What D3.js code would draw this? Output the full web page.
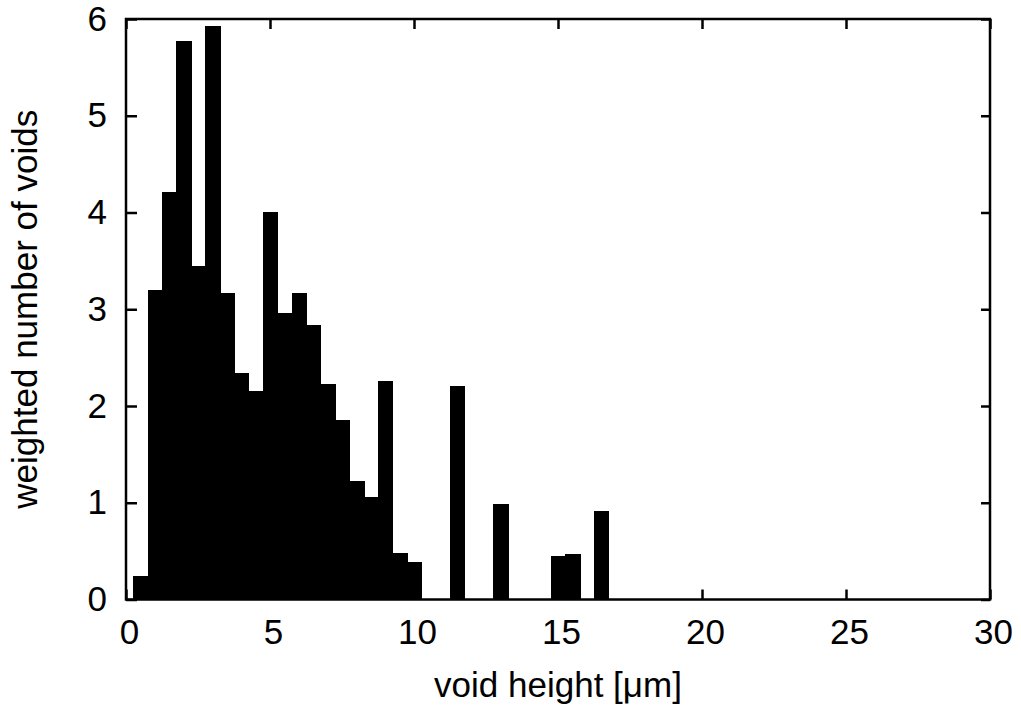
<!DOCTYPE html>
<html>
<head>
<meta charset="utf-8">
<script src="https://cdn.jsdelivr.net/npm/d3@7.9.0/dist/d3.min.js"></script>
<style>
  html, body { margin: 0; padding: 0; background: #fff; }
  svg text { font-family: "Liberation Sans", Arial, sans-serif; fill: #000; }
</style>
</head>
<body>
<div id="chart"></div>
<script>
// histogram bins (µm) and weighted counts
const binCenters = [0.5, 1.0, 1.5, 2.0, 2.5, 3.0, 3.5, 4.0, 4.5, 5.0,
                    5.5, 6.0, 6.5, 7.0, 7.5, 8.0, 8.5, 9.0, 9.5, 10.0,
                    11.5, 13.0, 15.0, 15.5, 16.5];
const counts = [0.24, 3.20, 4.21, 5.77, 3.45, 5.93, 3.17, 2.34, 2.16, 4.01,
                2.96, 3.17, 2.84, 2.23, 1.86, 1.22, 1.06, 2.26, 0.48, 0.39,
                2.21, 0.99, 0.45, 0.47, 0.91];
const binWidth = 0.5;
const xTicks = [0, 5, 10, 15, 20, 25, 30];
const yTicks = [0, 1, 2, 3, 4, 5, 6];

const width = 1021, height = 712;
const plot = { left: 126, right: 990, top: 19, bottom: 599.5 };

const bins = binCenters.map((c, i) => ({ x0: c - binWidth / 2, x1: c + binWidth / 2, value: counts[i] }));

const svg = d3.select('#chart').append('svg')
  .attr('width', width).attr('height', height);

const x = d3.scaleLinear().domain([0, 30]).range([plot.left, plot.right]);
const y = d3.scaleLinear().domain([0, 6]).range([plot.bottom, plot.top]);

svg.append('g').attr('class', 'bars').selectAll('rect')
  .data(bins).join('rect')
  .attr('x', d => x(d.x0))
  .attr('width', d => x(d.x1) - x(d.x0) + 1)
  .attr('y', d => y(d.value))
  .attr('height', d => y(0) - y(d.value))
  .attr('fill', '#000')
  .attr('shape-rendering', 'crispEdges');

const fontSize = '35px';

function styleAxis(g) {
  g.select('.domain').remove();
  g.selectAll('.tick line').attr('stroke', '#000').attr('stroke-width', 2.5);
  g.selectAll('text').style('font-size', fontSize);
}

svg.append('g').attr('transform', `translate(0,${plot.bottom})`)
  .call(d3.axisBottom(x).tickValues(xTicks).tickSize(-10).tickPadding(20).tickFormat(d3.format('d')))
  .call(styleAxis)
  .call(g => g.selectAll('text').attr('dx', 3));

svg.append('g').attr('transform', `translate(0,${plot.top})`)
  .call(d3.axisTop(x).tickValues(xTicks).tickSize(-10).tickFormat(''))
  .call(styleAxis);

svg.append('g').attr('transform', `translate(${plot.left},0)`)
  .call(d3.axisLeft(y).tickValues(yTicks).tickSize(-11).tickPadding(19).tickFormat(d3.format('d')))
  .call(styleAxis);

svg.append('g').attr('transform', `translate(${plot.right},0)`)
  .call(d3.axisRight(y).tickValues(yTicks).tickSize(-9).tickFormat(''))
  .call(styleAxis);

// frame
svg.append('rect')
  .attr('x', plot.left).attr('y', plot.top)
  .attr('width', plot.right - plot.left).attr('height', plot.bottom - plot.top)
  .attr('fill', 'none').attr('stroke', '#000').attr('stroke-width', 2.5);

svg.append('text')
  .attr('x', (plot.left + plot.right) / 2).attr('y', 697)
  .attr('text-anchor', 'middle')
  .style('font-size', fontSize)
  .text('void height [\u03bcm]');

svg.append('text')
  .attr('transform', `translate(37,${(plot.top + plot.bottom) / 2}) rotate(-90)`)
  .attr('text-anchor', 'middle')
  .style('font-size', fontSize)
  .text('weighted number of voids');
</script>
</body>
</html>
